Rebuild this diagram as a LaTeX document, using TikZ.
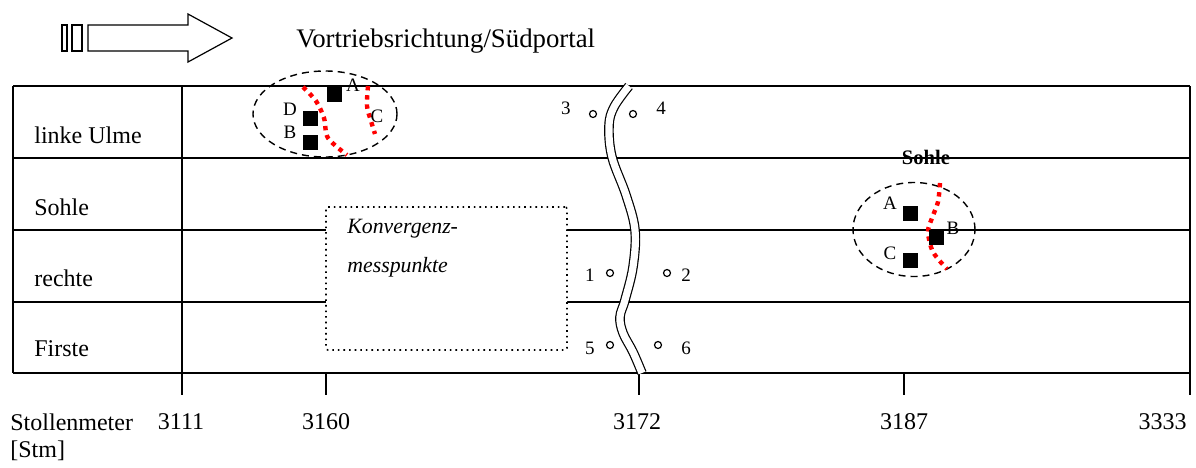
\documentclass[tikz,border=0pt]{standalone}
\usepackage{fontspec}
\setmainfont{Liberation Serif}
\usetikzlibrary{shapes.geometric}

\begin{document}
\begin{tikzpicture}
    [x=0.5pt, y=-0.5pt,
    %auto,
    grid/.style={line width=1pt},
    txt/.style={font=\fontsize{12}{14}\selectfont, inner sep=0pt},
    small/.style={font=\fontsize{9.5}{11}\selectfont, inner sep=0pt},
    block/.style={inner sep=0pt, minimum size=7.5pt, fill=black},
    mpoint/.style={inner sep=0pt, circle, draw, line width=0.6pt, minimum size=3.5pt},
    zone/.style={ellipse, draw, dashed, line width=0.7pt, dash pattern=on 3.5pt off 2.5pt, inner sep=0pt},
    crack/.style={red, line width=2.2pt, dash pattern=on 2.2pt off 2.4pt},
    hollow/.style={line width=0.6pt}]
        \useasboundingbox (0,0) rectangle (1196,467);

        %% Richtungspfeil
        \draw[hollow] (62,25) rectangle (67,51);
        \draw[hollow] (72,25) rectangle (82,51);
        \draw[hollow] (88,25) -- (188,25) -- (188,14) -- (232,38) -- (188,62) -- (188,51) -- (88,51) -- cycle;
        \node[font=\fontsize{13.4}{16}\selectfont, inner sep=0pt, anchor=west] (dir) at (296,41) {Vortriebsrichtung/Südportal};

        %% Tabelle
        \foreach \y in {86,158,230,302,373}
            \draw[grid] (13,\y) -- (1190,\y);
        \draw[grid] (13,86) -- (13,373);
        \draw[grid] (182,86) -- (182,395);
        \draw[grid] (1190,86) -- (1190,395);
        \foreach \x in {326,639,904}
            \draw[grid] (\x,373) -- (\x,395);

        \node[txt, anchor=west] (ulme) at (34,135) {linke Ulme};
        \node[txt, anchor=west] (sohle) at (34,207) {Sohle};
        \node[txt, anchor=west] (rechte) at (34,278) {rechte};
        \node[txt, anchor=west] (firste) at (34,349) {Firste};

        %% Konvergenz
        \node[draw, dotted, line width=0.8pt, fill=white, rounded corners=1pt,
              minimum width=120.5pt, minimum height=71.5pt] (konv) at (446.5,278.5) {};
        \node[anchor=north west, align=left, font=\fontsize{10.9}{19.5}\selectfont\itshape, inner sep=0pt]
            (konvtxt) at (347,219) {Konvergenz-\\messpunkte};

        %% Unterbrechung
        \draw[line width=0.6pt, double, double distance=3.6pt] plot[smooth, tension=0.6] coordinates
            {(629,86) (614,107) (609,126) (612,157) (626,195) (635,230) (633,267) (625,300) (620,317) (623,333) (633,352) (642,373)};

        %% Messpunkte
        \node[mpoint] (p3) at (593,114) {};
        \node[small, anchor=east] (l3) at (571,108) {3};
        \node[mpoint] (p4) at (633,114) {};
        \node[small, anchor=west] (l4) at (656,108) {4};
        \node[mpoint] (p1) at (610,273) {};
        \node[small, anchor=east] (l1) at (595,275) {1};
        \node[mpoint] (p2) at (667,273) {};
        \node[small, anchor=west] (l2) at (681,275) {2};
        \node[mpoint] (p5) at (610,345) {};
        \node[small, anchor=east] (l5) at (595,348) {5};
        \node[mpoint] (p6) at (658,345) {};
        \node[small, anchor=west] (l6) at (681,348) {6};

        %% Bereich linke Ulme
        \node[zone, minimum width=72pt, minimum height=43pt] (zoneL) at (325,114) {};
        \draw[crack] plot[smooth] coordinates {(303,87) (316,101) (324,118) (328,138) (347,155)};
        \draw[crack] plot[smooth] coordinates {(368,86) (367,106) (371,121) (375,134)};
        \node[block] (bA) at (334,94) {};
        \node[block] (bD) at (310,118) {};
        \node[block] (bB) at (310,142) {};
        \node[small] (tA) at (353,85) {A};
        \node[small] (tD) at (290,109) {D};
        \node[small] (tB) at (290,132) {B};
        \node[small] (tC) at (377,116) {C};

        %% Bereich Sohle
        \node[font=\fontsize{10.3}{12}\selectfont\bfseries, inner sep=0pt] (titel) at (926,157) {Sohle};
        \node[zone, minimum width=61pt, minimum height=47pt] (zoneR) at (914,229.5) {};
        \draw[crack] plot[smooth] coordinates {(940,183) (938,202) (932,218) (928,232) (933,252) (947,269)};
        \node[block] (rA) at (910,213) {};
        \node[block] (rB) at (936,237) {};
        \node[block] (rC) at (910,260) {};
        \node[small] (sA) at (890,203) {A};
        \node[small] (sB) at (953,228) {B};
        \node[small] (sC) at (890,253) {C};

        %% Stollenmeter
        \node[txt, anchor=west] (stm) at (10,422) {Stollenmeter};
        \node[txt, anchor=west] (unit) at (10,451) {[Stm]};
        \node[txt] (m1) at (181,422) {3111};
        \node[txt] (m2) at (326,422) {3160};
        \node[txt] (m3) at (637,422) {3172};
        \node[txt] (m4) at (904,422) {3187};
        \node[txt, anchor=east] (m5) at (1187,422) {3333};
    \end{tikzpicture}
\end{document}
